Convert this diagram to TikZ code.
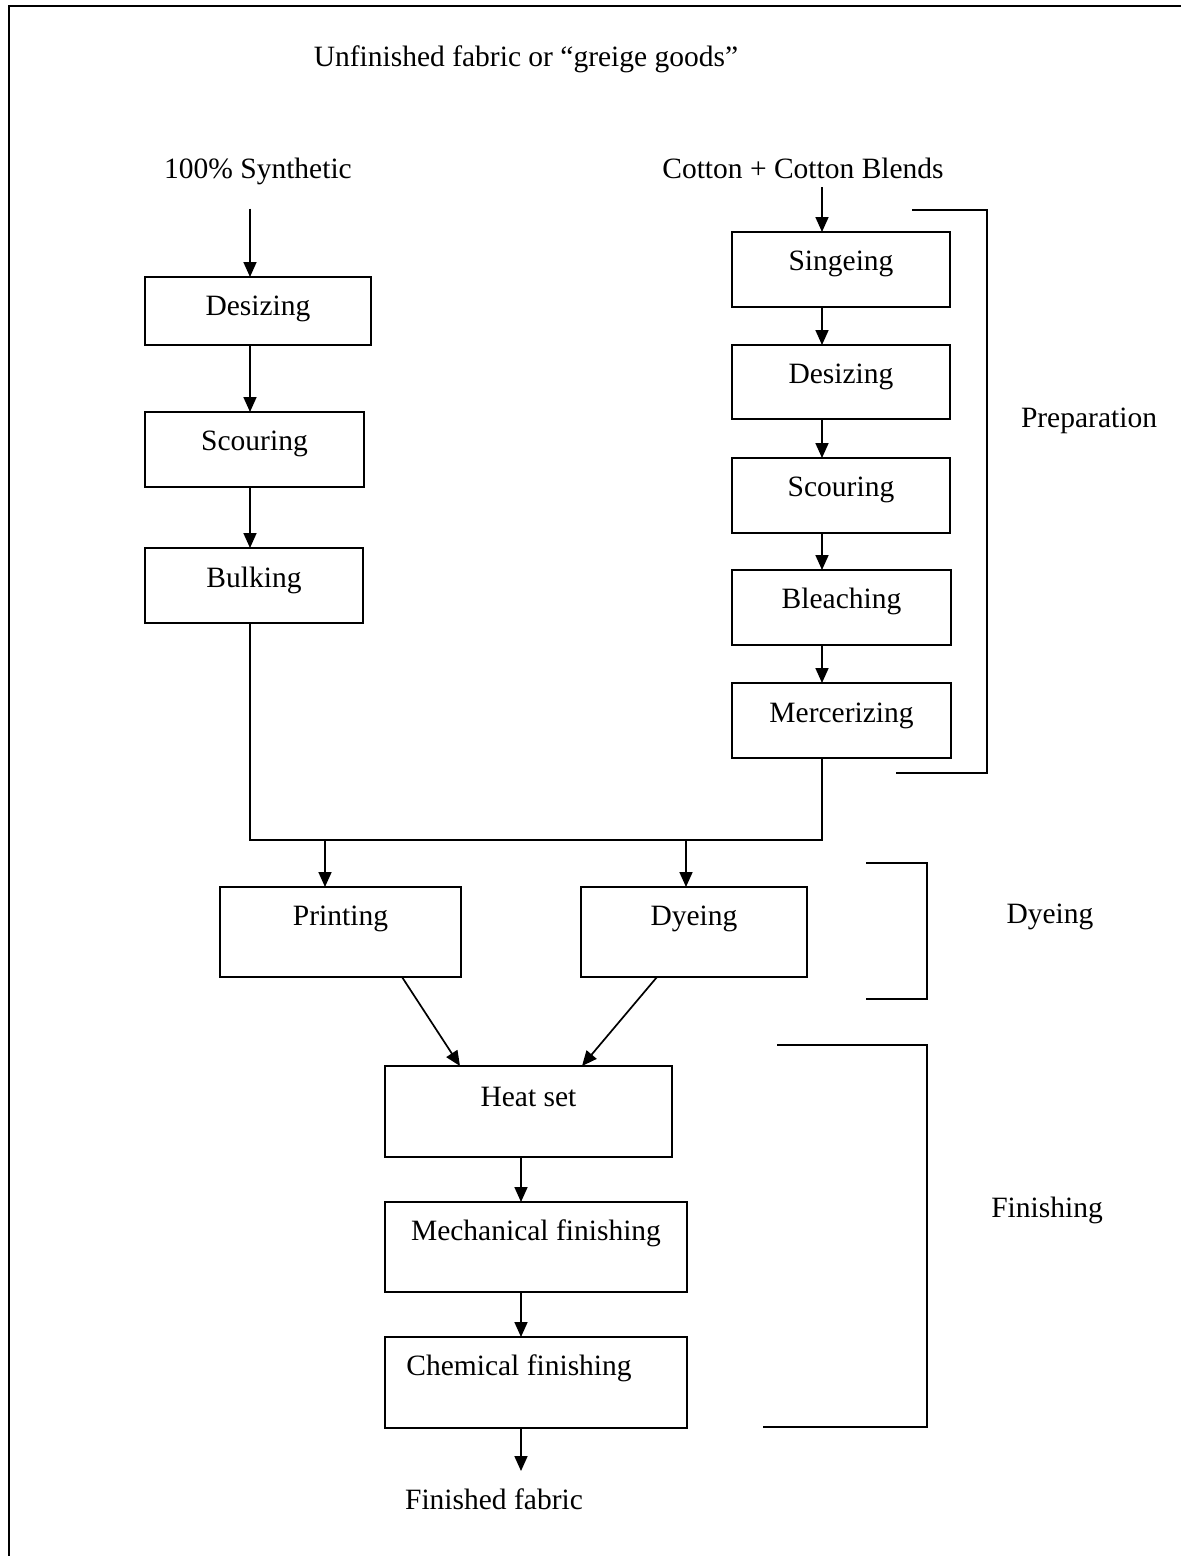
\documentclass[tikz,border=0pt]{standalone}
\usepackage{fontspec}
\setmainfont{Liberation Serif}
\usetikzlibrary{arrows.meta}

\begin{document}
\begin{tikzpicture}[x=1pt, y=-1pt,
  font=\fontsize{29.5}{35}\selectfont,
  stage/.style n args={3}{draw, line width=1.9pt, anchor=north west,
    inner xsep=0pt, inner ysep=0pt, outer sep=0pt,
    minimum width=#1, text height=#2, text depth=#3},
  flow/.style={line width=1.7pt, -{Triangle[width=13pt,length=15pt]}},
  wire/.style={line width=1.7pt},
  brace/.style={line width=1.9pt}]
  \useasboundingbox (0,0) rectangle (1181,1556);
  \draw[line width=2.4pt] (9,1556) -- (9,6) -- (1181,6);

  \coordinate (xL) at (250, 0);
  \coordinate (xR) at (822, 0);
  \coordinate (xF) at (521, 0);
  \coordinate (jL) at (250, 840);
  \coordinate (jR) at (822, 840);
  \coordinate (jP) at (325, 840);
  \coordinate (jD) at (686, 840);

  \node[anchor=base] (title) at (526, 66) {Unfinished fabric or “greige goods”};
  \node[anchor=base, inner ysep=24pt] (syn) at (258, 178) {100\% Synthetic};
  \node[anchor=base, inner ysep=9pt] (cot) at (803, 178) {Cotton + Cotton Blends};

  \node[stage={226pt}{38pt}{30pt}] (dsL) at (145, 277) {Desizing};
  \node[stage={219pt}{38pt}{37pt}] (scL) at (145, 412) {Scouring};
  \node[stage={218pt}{39pt}{36pt}] (bk) at (145, 548) {Bulking};

  \node[stage={218pt}{38pt}{37pt}] (sg) at (732, 232) {Singeing};
  \node[stage={218pt}{38pt}{36pt}] (dsR) at (732, 345) {Desizing};
  \node[stage={218pt}{38pt}{37pt}] (scR) at (732, 458) {Scouring};
  \node[stage={219pt}{38pt}{37pt}] (bl) at (732, 570) {Bleaching};
  \node[stage={219pt}{39pt}{36pt}] (mc) at (732, 683) {Mercerizing};

  \node[stage={241pt}{38pt}{52pt}] (pr) at (220, 887) {Printing};
  \node[stage={226pt}{38pt}{52pt}] (dy) at (581, 887) {Dyeing};

  \node[stage={287pt}{40pt}{51pt}] (hs) at (385, 1066) {Heat set};
  \node[stage={302pt}{38pt}{52pt}] (mf) at (385, 1202) {Mechanical finishing};
  \node[stage={302pt}{38pt}{53pt}] (cf) at (385, 1337) {\hspace*{-34pt}Chemical finishing};
  \node[anchor=base, inner ysep=17pt] (fin) at (494, 1509) {Finished fabric};

  \node[anchor=base] (prep) at (1089, 427) {Preparation};
  \node[anchor=base] (dyel) at (1050, 923) {Dyeing};
  \node[anchor=base] (finl) at (1047, 1217) {Finishing};

  \draw[flow] (syn.south -| xL) -- (dsL.north -| xL);
  \draw[flow] (dsL.south -| xL) -- (scL.north -| xL);
  \draw[flow] (scL.south -| xL) -- (bk.north -| xL);

  \draw[flow] (cot.south -| xR) -- (sg.north -| xR);
  \draw[flow] (sg.south -| xR) -- (dsR.north -| xR);
  \draw[flow] (dsR.south -| xR) -- (scR.north -| xR);
  \draw[flow] (scR.south -| xR) -- (bl.north -| xR);
  \draw[flow] (bl.south -| xR) -- (mc.north -| xR);

  \draw[wire] (bk.south -| jL) -- (jL) -- (jR) -- (mc.south -| jR);
  \draw[flow] (jP) -- (pr.north -| jP);
  \draw[flow] (jD) -- (dy.north -| jD);

  \draw[flow] ([xshift=182pt]pr.south west) -- ([xshift=75pt]hs.north west);
  \draw[flow] ([xshift=76pt]dy.south west) -- ([xshift=197pt]hs.north west);
  \draw[flow] (hs.south -| xF) -- (mf.north -| xF);
  \draw[flow] (mf.south -| xF) -- (cf.north -| xF);
  \draw[flow] (cf.south -| xF) -- (fin.north -| xF);

  \draw[brace] (912, 210) -- (987, 210) -- (987, 773) -- (896, 773);
  \draw[brace] (866, 863) -- (927, 863) -- (927, 999) -- (866, 999);
  \draw[brace] (777, 1045) -- (927, 1045) -- (927, 1427) -- (763, 1427);
\end{tikzpicture}
\end{document}
